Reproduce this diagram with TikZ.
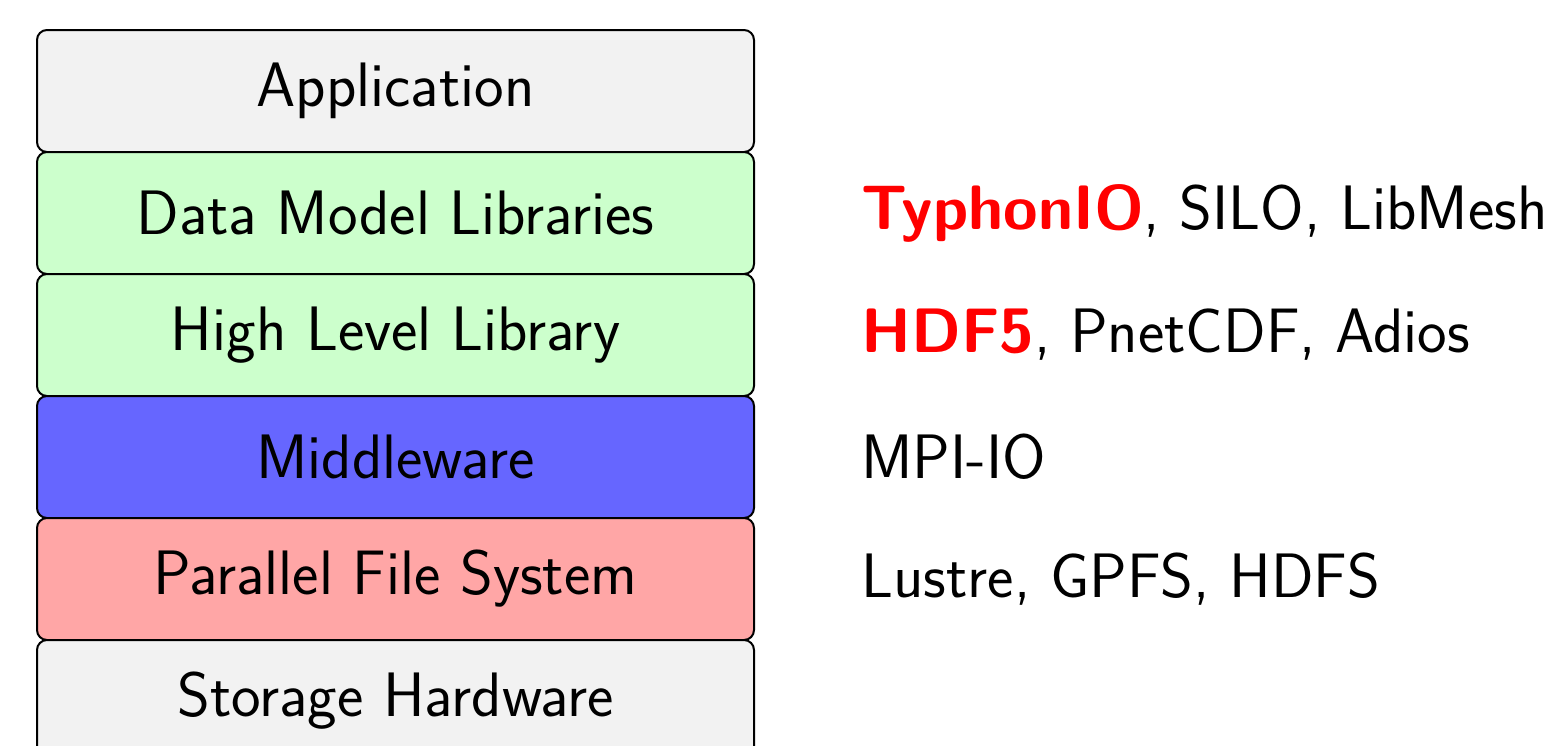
\documentclass[tikz,border=0pt]{standalone}
\begin{document}
\begin{tikzpicture}[x=0.5pt,y=-0.5pt,
  layer/.style={draw=black, line width=1pt, rounded corners=5pt, minimum width=358.5pt, minimum height=61pt, inner sep=0pt, font=\sffamily\fontsize{31.4}{37}\selectfont},
  side/.style={anchor=west, inner sep=0pt, font=\sffamily\fontsize{31.4}{37}\selectfont},
  hl/.style={font=\bfseries, text=hred}]
\useasboundingbox (0,0) rectangle (1557,745);
\definecolor{lgray}{HTML}{F2F2F2}
\definecolor{lgreen}{HTML}{CCFFCC}
\definecolor{lblue}{HTML}{6666FF}
\definecolor{lred}{HTML}{FFA6A6}
\definecolor{hred}{HTML}{FF0000}
\node[layer, fill=lgray]  (app)  at (395.5,91)  {Application};
\node[layer, fill=lgreen] (dml)  at (395.5,213) {Data Model Libraries};
\node[layer, fill=lgreen] (hll)  at (395.5,335) {High Level Library};
\node[layer, fill=lblue]  (mid)  at (395.5,457) {Middleware};
\node[layer, fill=lred]   (pfs)  at (395.5,579) {Parallel File System};
\node[layer, fill=lgray]  (stor) at (395.5,701) {Storage Hardware};
\node[side] (t1) at (861,213) {{\bfseries\color{hred}TyphonIO}, SILO, LibMesh};
\node[side] (t2) at (861,335) {{\bfseries\color{hred}HDF5}, PnetCDF, Adios};
\node[side] (t3) at (861,457) {MPI-IO};
\node[side] (t4) at (861,579) {Lustre, GPFS, HDFS};
\end{tikzpicture}
\end{document}
